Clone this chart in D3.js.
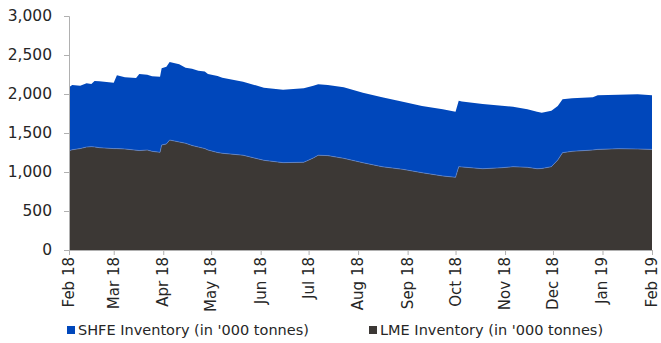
<!DOCTYPE html>
<html>
<head>
<style>
  body { margin: 0; background: #fff; }
  svg text { font-family: "DejaVu Sans", sans-serif; fill: #262626; }
</style>
</head>
<body>
<script src="https://d3js.org/d3.v7.min.js"></script>
<script>
// readings, in '000 tonnes
const dates = ["2018-02-01","2018-02-03","2018-02-08","2018-02-12","2018-02-15","2018-02-17","2018-02-20",
  "2018-03-01","2018-03-03","2018-03-08","2018-03-15","2018-03-17","2018-03-22","2018-03-25","2018-03-30",
  "2018-03-31","2018-04-03","2018-04-05","2018-04-11","2018-04-15","2018-04-19","2018-04-23","2018-04-27",
  "2018-04-29","2018-05-05","2018-05-08","2018-05-21","2018-06-03","2018-06-15","2018-06-28","2018-07-04",
  "2018-07-07","2018-07-13","2018-07-23","2018-08-04","2018-08-16","2018-08-29","2018-09-10","2018-09-23",
  "2018-10-01","2018-10-03","2018-10-05","2018-10-18","2018-10-30","2018-11-06","2018-11-15","2018-11-21",
  "2018-11-24","2018-11-30","2018-12-04","2018-12-07","2018-12-13","2018-12-26","2018-12-29","2019-01-11",
  "2019-01-23","2019-02-01"];
const lme = [1273,1285,1300,1320,1325,1322,1312,
  1300,1300,1295,1280,1275,1282,1265,1252,
  1346,1360,1410,1385,1368,1340,1320,1300,
  1282,1250,1240,1215,1150,1120,1125,1180,
  1215,1210,1175,1119,1068,1034,991,949,
  932,1068,1065,1042,1055,1068,1060,1042,
  1045,1068,1154,1248,1265,1282,1290,1299,
  1295,1290];
const shfe = [813,830,807,817,803,845,853,
  845,940,919,925,981,965,961,970,
  983,990,1000,995,969,984,978,990,
  974,981,969,943,931,935,948,927,
  909,905,911,898,890,867,855,855,
  841,846,840,830,795,769,744,731,
  715,718,692,684,680,676,693,692,
  701,695];
const yTicks = [0,500,1000,1500,2000,2500,3000];
const monthTicks = ["2018-02-01","2018-03-01","2018-04-01","2018-05-01","2018-06-01","2018-07-01",
  "2018-08-01","2018-09-01","2018-10-01","2018-11-01","2018-12-01","2019-01-01","2019-02-01"];
const seriesNames = ["SHFE Inventory (in '000 tonnes)", "LME Inventory (in '000 tonnes)"];
const colors = { shfe: "#0047bb", lme: "#3c3835" };

const width = 661, height = 343;
const margin = { top: 16, right: 9, bottom: 93, left: 69 };
const parse = d3.timeParse("%Y-%m-%d");

const rows = dates.map((d, i) => ({ date: parse(d), lme: lme[i], shfe: shfe[i] }));

const svg = d3.select("body").append("svg")
  .attr("width", width).attr("height", height);

const x = d3.scaleTime()
  .domain([parse("2018-02-01"), parse("2019-02-01")])
  .range([margin.left, width - margin.right]);
const y = d3.scaleLinear()
  .domain([0, 3000])
  .range([height - margin.bottom, margin.top]);

const stack = d3.stack().keys(["lme", "shfe"]);
const layers = stack(rows);

const area = d3.area()
  .x(d => x(d.data.date))
  .y0(d => y(d[0]))
  .y1(d => y(d[1]));

svg.selectAll("path.layer")
  .data(layers)
  .join("path")
  .attr("class", "layer")
  .attr("fill", d => colors[d.key])
  .attr("d", area);

// faint seam between the two areas
svg.append("path")
  .attr("fill", "none")
  .attr("stroke", "#6f8fcf")
  .attr("stroke-width", 0.6)
  .attr("d", d3.line().x(d => x(d.data.date)).y(d => y(d[1]))(layers[0]));

// y axis
const yAxis = svg.append("g")
  .attr("transform", `translate(${margin.left},0)`)
  .call(d3.axisLeft(y).tickValues(yTicks).tickFormat(d3.format(",")).tickSize(5).tickPadding(12));
yAxis.select(".domain").attr("stroke", "#b0b0b0");
yAxis.selectAll(".tick line").attr("stroke", "#b0b0b0");
yAxis.selectAll("text").attr("font-size", 15.5).attr("fill", "#262626");

// x axis
const xAxis = svg.append("g")
  .attr("transform", `translate(0,${height - margin.bottom})`)
  .call(d3.axisBottom(x).tickValues(monthTicks.map(parse)).tickFormat(d3.timeFormat("%b %y")).tickSize(5).tickSizeOuter(0));
xAxis.select(".domain").attr("stroke", "#b0b0b0");
xAxis.selectAll(".tick line").attr("stroke", "#b0b0b0");
xAxis.selectAll("text")
  .attr("font-size", 15)
  .attr("fill", "#262626")
  .attr("transform", "rotate(-90)")
  .attr("text-anchor", "end")
  .attr("x", -7)
  .attr("y", 0)
  .attr("dy", "0.3em");

// legend
const legend = svg.append("g");
const legendX = [67, 369];
const legendKeys = ["shfe", "lme"];
seriesNames.forEach((name, i) => {
  const g = legend.append("g").attr("transform", `translate(${legendX[i]},326)`);
  g.append("rect").attr("width", 8).attr("height", 8).attr("fill", colors[legendKeys[i]]);
  g.append("text").attr("x", 11).attr("y", 9).attr("font-size", 14.5).text(name);
});
</script>
</body>
</html>
